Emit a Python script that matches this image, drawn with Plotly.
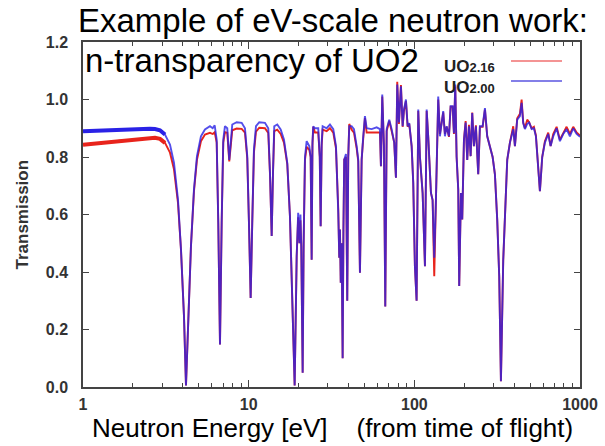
import plotly.graph_objects as go

# ---- data ----
energy_ev = [
    1.000, 1.102, 1.266, 1.455, 1.672, 1.921, 2.208, 2.537, 2.719, 2.915, 3.125,
    3.350, 3.541, 3.744, 3.904, 4.070, 4.184, 4.301, 4.484, 4.675, 4.874, 5.152, 5.447,
    5.840, 6.064, 6.235, 6.411, 6.555, 6.713, 6.871, 7.026, 7.194, 7.428, 7.636, 7.787,
    7.962, 8.465, 9.074, 9.499, 9.806, 10.04, 10.28, 10.51, 10.76, 11.07, 11.59, 12.54,
    13.13, 13.45, 13.77, 14.02, 14.27, 14.88, 15.60, 16.33, 17.10, 17.75, 18.33, 18.95,
    19.49, 19.90, 20.26, 20.54, 20.77, 21.18, 21.47, 21.87, 22.39, 23.22,
    23.67, 24.00, 24.27, 24.54, 25.12, 26.30, 26.86, 27.20, 27.58, 27.96, 29.56, 30.95,
    32.41, 33.65, 34.74, 35.23, 35.56, 35.96, 36.41, 36.92, 37.33, 37.74, 38.66, 39.36,
    39.91, 40.47, 41.84, 43.21, 44.86, 45.86, 46.96, 48.08, 49.16, 50.33, 51.54, 55.25,
    59.23, 62.01, 62.87, 64.03, 65.57, 66.77, 68.08, 70.56, 72.95, 75.63, 77.44, 78.85,
    80.74, 83.01, 85.01, 86.55, 88.99, 91.12, 93.16, 96.32, 98.49, 100.8, 103.2, 105.6,
    108.1, 112.2, 115.9, 118.7, 121.3, 126.0, 128.9, 131.9, 135.0, 139.4, 142.7, 149.4,
    153.0, 156.7, 161.8, 165.6, 170.3, 173.4, 176.6, 180.0, 184.1, 186.6, 191.1, 194.6,
    199.3, 204.0, 208.6, 213.6, 218.7, 223.6, 228.9, 235.3, 243.0, 248.8, 258.4, 266.8,
    275.4, 286.0, 296.9, 306.5, 316.4, 325.4, 333.2, 344.0, 352.3, 363.7, 377.6, 395.4,
    404.8, 417.9, 433.9, 444.2, 454.2, 465.0, 480.1, 493.6, 510.4, 527.0, 541.8, 559.4,
    572.8, 591.5, 614.1, 642.9, 664.7, 689.2, 722.5, 756.4, 791.8, 830.2, 869.2, 910.0,
    953.9, 1000.0,
]

t_uo2_00 = [
    0.890, 0.891, 0.893, 0.894, 0.896, 0.897, 0.898, 0.898, 0.897, 0.893, 0.878,
    0.843, 0.780, 0.652, 0.478, 0.246, 0.005, 0.224, 0.490, 0.687, 0.803, 0.872, 0.896,
    0.907, 0.900, 0.910, 0.861, 0.572, 0.148, 0.572, 0.861, 0.907, 0.900, 0.790, 0.860,
    0.913, 0.921, 0.919, 0.900, 0.803, 0.572, 0.310, 0.572, 0.826, 0.907, 0.921, 0.919,
    0.900, 0.745, 0.525, 0.745, 0.907, 0.913, 0.896, 0.861, 0.780, 0.594, 0.339, 0.005,
    0.455, 0.606, 0.500, 0.600, 0.490, 0.050, 0.500, 0.800, 0.855, 0.838,
    0.800, 0.443, 0.850, 0.907, 0.900, 0.900, 0.800, 0.559, 0.850, 0.907, 0.900, 0.913,
    0.897, 0.838, 0.606, 0.450, 0.548, 0.363, 0.500, 0.100, 0.550, 0.791, 0.810, 0.300,
    0.800, 0.907, 0.907, 0.897, 0.838, 0.791, 0.397, 0.791, 0.872, 0.942, 0.900, 0.897,
    0.903, 0.897, 0.768, 1.017, 0.838, 0.280, 0.897, 0.930, 0.897, 0.850, 0.728, 1.052,
    0.920, 1.046, 0.907, 0.965, 1.000, 0.907, 0.918, 0.838, 0.710, 0.420, 0.300, 0.965,
    0.800, 0.675, 0.420, 0.965, 0.870, 0.675, 0.650, 0.450, 0.650, 1.010, 0.872, 0.960,
    0.872, 0.907, 0.872, 0.977, 0.977, 0.883, 1.052, 0.800, 0.687, 0.351, 0.675, 0.583,
    0.860, 0.920, 0.790, 0.907, 0.803, 0.953, 0.838, 0.907, 0.740, 0.907, 0.907, 0.970,
    0.872, 0.838, 0.800, 0.740, 0.583, 0.385, 0.020, 0.440, 0.620, 0.790, 0.850, 0.897,
    0.838, 0.930, 0.942, 0.988, 0.918, 0.897, 0.915, 0.920, 0.897, 0.900, 0.872, 0.760,
    0.681, 0.800, 0.850, 0.880, 0.838, 0.872, 0.900, 0.855, 0.880, 0.897, 0.872, 0.900,
    0.880, 0.870,
]

t_uo2_16 = [
    0.843, 0.845, 0.849, 0.852, 0.857, 0.859, 0.861, 0.864, 0.867, 0.863, 0.849,
    0.815, 0.757, 0.640, 0.478, 0.246, 0.005, 0.224, 0.490, 0.680, 0.790, 0.855, 0.878,
    0.884, 0.880, 0.886, 0.850, 0.572, 0.148, 0.572, 0.850, 0.886, 0.884, 0.785, 0.850,
    0.893, 0.899, 0.898, 0.885, 0.795, 0.572, 0.310, 0.572, 0.815, 0.888, 0.902, 0.900,
    0.884, 0.740, 0.525, 0.740, 0.890, 0.895, 0.880, 0.850, 0.775, 0.594, 0.339, 0.005,
    0.455, 0.590, 0.500, 0.580, 0.490, 0.050, 0.500, 0.790, 0.835, 0.825,
    0.800, 0.443, 0.840, 0.905, 0.885, 0.885, 0.800, 0.559, 0.840, 0.895, 0.890, 0.900,
    0.885, 0.830, 0.620, 0.450, 0.548, 0.363, 0.500, 0.100, 0.550, 0.791, 0.800, 0.300,
    0.800, 0.915, 0.895, 0.885, 0.830, 0.785, 0.397, 0.791, 0.865, 0.935, 0.885, 0.885,
    0.885, 0.885, 0.768, 1.010, 0.838, 0.280, 0.890, 0.925, 0.890, 0.850, 0.728, 1.062,
    0.915, 1.050, 0.905, 0.960, 0.995, 0.905, 0.915, 0.838, 0.710, 0.420, 0.300, 0.960,
    0.800, 0.675, 0.420, 0.960, 0.870, 0.675, 0.650, 0.385, 0.650, 1.000, 0.880, 0.955,
    0.880, 0.905, 0.870, 0.975, 0.975, 0.880, 1.045, 0.800, 0.687, 0.351, 0.675, 0.583,
    0.860, 0.925, 0.790, 0.912, 0.803, 0.955, 0.838, 0.910, 0.740, 0.905, 0.905, 0.965,
    0.872, 0.838, 0.800, 0.740, 0.583, 0.385, 0.020, 0.440, 0.620, 0.790, 0.850, 0.907,
    0.838, 0.935, 0.950, 1.000, 0.920, 0.900, 0.930, 0.920, 0.900, 0.905, 0.875, 0.760,
    0.681, 0.800, 0.855, 0.885, 0.838, 0.880, 0.905, 0.860, 0.885, 0.905, 0.880, 0.905,
    0.885, 0.875,
]

x_tick_vals = [1, 10, 100, 1000]
x_tick_text = ["1", "10", "100", "1000"]
x_minor_vals = [2, 3, 4, 5, 6, 7, 8, 9, 20, 30, 40, 50, 60, 70, 80, 90,
                200, 300, 400, 500, 600, 700, 800, 900]
y_tick_vals = [0.0, 0.2, 0.4, 0.6, 0.8, 1.0, 1.2]

series_names = ["UO2.16", "UO2.00"]
legend_labels = ["UO<span style='font-size:13px'>2.16</span>",
                 "UO<span style='font-size:13px'>2.00</span>"]
series_colors = ["#e8241c", "#2a22e6"]
legend_colors = ["#f07070", "#5a55e0"]

n_band = 11  # noisy flat low-energy stretch drawn thicker

fig = go.Figure()
# thick noisy low-energy band
fig.add_trace(go.Scatter(x=energy_ev[:n_band], y=t_uo2_16[:n_band], mode="lines",
                         line=dict(color=series_colors[0], width=4), showlegend=False,
                         hoverinfo="skip"))
fig.add_trace(go.Scatter(x=energy_ev[:n_band], y=t_uo2_00[:n_band], mode="lines",
                         line=dict(color=series_colors[1], width=4), showlegend=False,
                         hoverinfo="skip"))
fig.add_trace(go.Scatter(x=energy_ev, y=t_uo2_16, mode="lines", name=series_names[0],
                         line=dict(color=series_colors[0], width=1.9), showlegend=False))
fig.add_trace(go.Scatter(x=energy_ev, y=t_uo2_00, mode="lines", name=series_names[1],
                         line=dict(color=series_colors[1], width=1.9), opacity=0.8,
                         showlegend=False))

L, R, T, B = 83, 25, 42, 59
W, H = 605, 446
pw, ph = W - L - R, H - T - B

def px(xpix):
    return (xpix - L) / pw

def py(ypix):
    return (H - B - ypix) / ph

tick_font = dict(family="Liberation Sans, Arial, sans-serif", size=16, color="#333333",
                 weight="bold")

fig.update_layout(
    width=W, height=H,
    margin=dict(l=L, r=R, t=T, b=B, autoexpand=False),
    paper_bgcolor="white", plot_bgcolor="white",
    showlegend=False,
    xaxis=dict(type="log", range=[0, 3], tickmode="array", tickvals=x_tick_vals,
               ticktext=x_tick_text, ticks="inside", ticklen=7, tickwidth=1,
               tickcolor="#444", showline=True, linecolor="#444", linewidth=1.5,
               mirror="ticks", showgrid=False, zeroline=False, tickfont=tick_font,
               ticklabelstandoff=2,
               minor=dict(tickvals=x_minor_vals, ticks="inside", ticklen=4,
                          tickcolor="#444", showgrid=False)),
    yaxis=dict(range=[0, 1.2], tickmode="array", tickvals=y_tick_vals, tickformat=".1f",
               ticks="inside", ticklen=6, tickwidth=1, tickcolor="#444",
               showline=True, linecolor="#444", linewidth=1.5, mirror="ticks",
               showgrid=False, zeroline=False, tickfont=tick_font,
               ticklabelstandoff=10),
)

big_font = dict(family="Liberation Sans, Arial, sans-serif", size=33, color="black")
fig.add_annotation(text="Example of eV-scale neutron work:", xref="paper", yref="paper",
                   x=px(76), y=py(21), xanchor="left", yanchor="middle",
                   showarrow=False, font=big_font)
fig.add_annotation(text="n-transparency of UO2", xref="paper", yref="paper",
                   x=px(83), y=py(60), xanchor="left", yanchor="middle",
                   showarrow=False, font=big_font)
fig.add_annotation(text="Neutron Energy [eV]\u00a0\u00a0\u00a0\u00a0(from time of flight)",
                   xref="paper", yref="paper", x=px(332), y=py(428),
                   xanchor="center", yanchor="middle", showarrow=False,
                   font=dict(family="Liberation Sans, Arial, sans-serif", size=26,
                             color="black"))
fig.add_annotation(text="Transmission", xref="paper", yref="paper", x=px(22), y=0.5,
                   xanchor="center", yanchor="middle", textangle=-90, showarrow=False,
                   font=dict(family="Liberation Sans, Arial, sans-serif", size=17,
                             color="#333333", weight="bold"))

# legend (gnuplot style: label then line sample)
leg_text_y = [66, 87]
leg_line_y = [61, 81]
for i in range(2):
    fig.add_annotation(text=legend_labels[i], xref="paper", yref="paper",
                       x=px(442), y=py(leg_text_y[i]), xanchor="left", yanchor="middle",
                       showarrow=False,
                       font=dict(family="Liberation Sans, Arial, sans-serif", size=17,
                                 color="#222222", weight="bold"))
    fig.add_shape(type="line", xref="paper", yref="paper",
                  x0=px(511), x1=px(562), y0=py(leg_line_y[i]), y1=py(leg_line_y[i]),
                  line=dict(color=legend_colors[i], width=1.5))

fig.write_html("out.html")
